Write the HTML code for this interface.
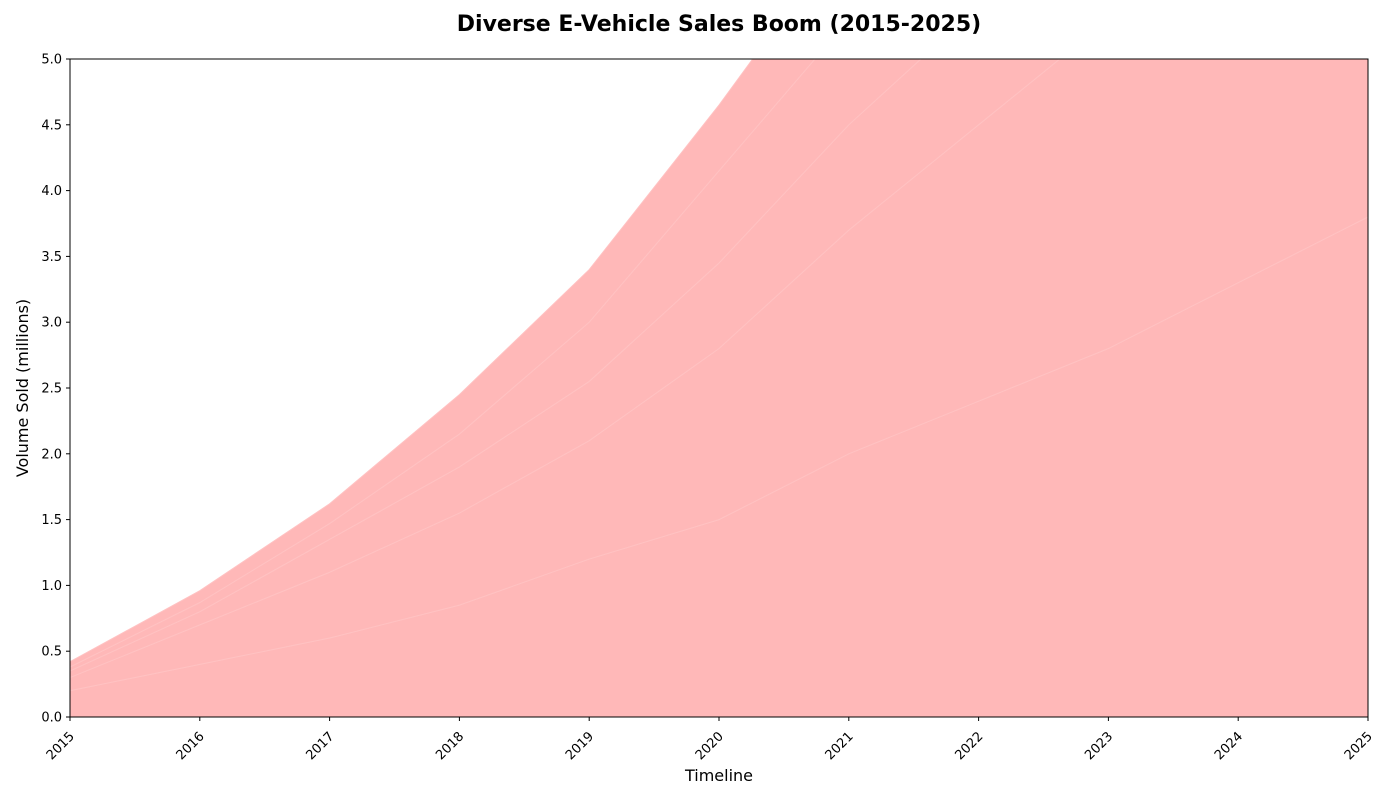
<!DOCTYPE html>
<html><head><meta charset="utf-8"><style>
body{margin:0;background:#fff;font-family:"Liberation Sans","DejaVu Sans",sans-serif;}
svg text{font-family:"DejaVu Sans","Liberation Sans",sans-serif;}
</style></head><body>
<svg id="chart" width="1400" height="800">
<text x="719" y="31" text-anchor="middle" font-size="22" font-weight="bold">Diverse E-Vehicle Sales Boom (2015-2025)</text>
<defs><clipPath id="pc"><rect x="70" y="59" width="1298" height="658"/></clipPath></defs>
<g id="areas" clip-path="url(#pc)"></g>
<g id="axes"></g>
<text x="719" y="781" text-anchor="middle" font-size="16">Timeline</text>
<text transform="translate(28,388) rotate(-90)" text-anchor="middle" font-size="16">Volume Sold (millions)</text>
</svg>
<script>
const years=[2015,2016,2017,2018,2019,2020,2021,2022,2023,2024,2025];
const layer1=[0.2,0.4,0.6,0.85,1.2,1.5,2.0,2.4,2.8,3.3,3.8];
const layer2=[0.1,0.3,0.5,0.7,0.9,1.3,1.7,2.1,2.5,2.9,3.3];
const layer3=[0.05,0.1,0.25,0.35,0.45,0.65,0.8,0.9,1.0,1.1,1.2];
const layer4=[0.03,0.07,0.12,0.25,0.45,0.7,0.8,0.9,1.0,1.1,1.2];
const layer5=[0.04,0.09,0.15,0.3,0.4,0.5,0.7,0.8,0.9,1.0,1.1];
const yTicks=[0,0.5,1,1.5,2,2.5,3,3.5,4,4.5,5];
const layers=[layer1,layer2,layer3,layer4,layer5];
const X0=70,X1=1368,Y0=717,Y1=59;
const x=i=>X0+(years[i]-years[0])/(years[years.length-1]-years[0])*(X1-X0);
const y=v=>Y0-v/5*(Y0-Y1);
const NS="http://www.w3.org/2000/svg";
const ag=document.getElementById('areas'),ax=document.getElementById('axes');
let base=years.map(()=>0);
layers.forEach((L,k)=>{
  const top=base.map((b,i)=>b+L[i]);
  let d="M"+years.map((_,i)=>x(i)+","+y(top[i])).join(" L");
  for(let i=years.length-1;i>=0;i--) d+=" L"+x(i)+","+y(base[i]);
  d+=" Z";
  const p=document.createElementNS(NS,'path');
  p.setAttribute('d',d);p.setAttribute('fill','#ffb8b8');p.setAttribute('stroke','#ffc2c2');p.setAttribute('stroke-width','1');
  
  
  ag.appendChild(p);
  base=top;
});
const fr=document.createElementNS(NS,'rect');
fr.setAttribute('x',X0);fr.setAttribute('y',Y1);fr.setAttribute('width',X1-X0);fr.setAttribute('height',Y0-Y1);
fr.setAttribute('fill','none');fr.setAttribute('stroke','#000');


ax.appendChild(fr);
yTicks.forEach(v=>{
  const l=document.createElementNS(NS,'line');
  l.setAttribute('x1',X0-4);l.setAttribute('x2',X0);l.setAttribute('y1',y(v));l.setAttribute('y2',y(v));l.setAttribute('stroke','#000');
  ax.appendChild(l);
  const t=document.createElementNS(NS,'text');
  t.setAttribute('x',X0-8);t.setAttribute('y',y(v)+4.5);t.setAttribute('text-anchor','end');t.setAttribute('font-size','13');
  t.textContent=v.toFixed(1);
  
  
  ax.appendChild(t);
});
years.forEach((yr,i)=>{
  const l=document.createElementNS(NS,'line');
  l.setAttribute('x1',x(i));l.setAttribute('x2',x(i));l.setAttribute('y1',Y0);l.setAttribute('y2',Y0+4);l.setAttribute('stroke','#000');
  ax.appendChild(l);
  const t=document.createElementNS(NS,'text');
  t.setAttribute('transform','translate('+(x(i)+5)+','+(Y0+20)+') rotate(-45)');
  t.setAttribute('text-anchor','end');t.setAttribute('font-size','13');
  t.textContent=yr;
  
  
  ax.appendChild(t);
});
</script>
</body></html>
